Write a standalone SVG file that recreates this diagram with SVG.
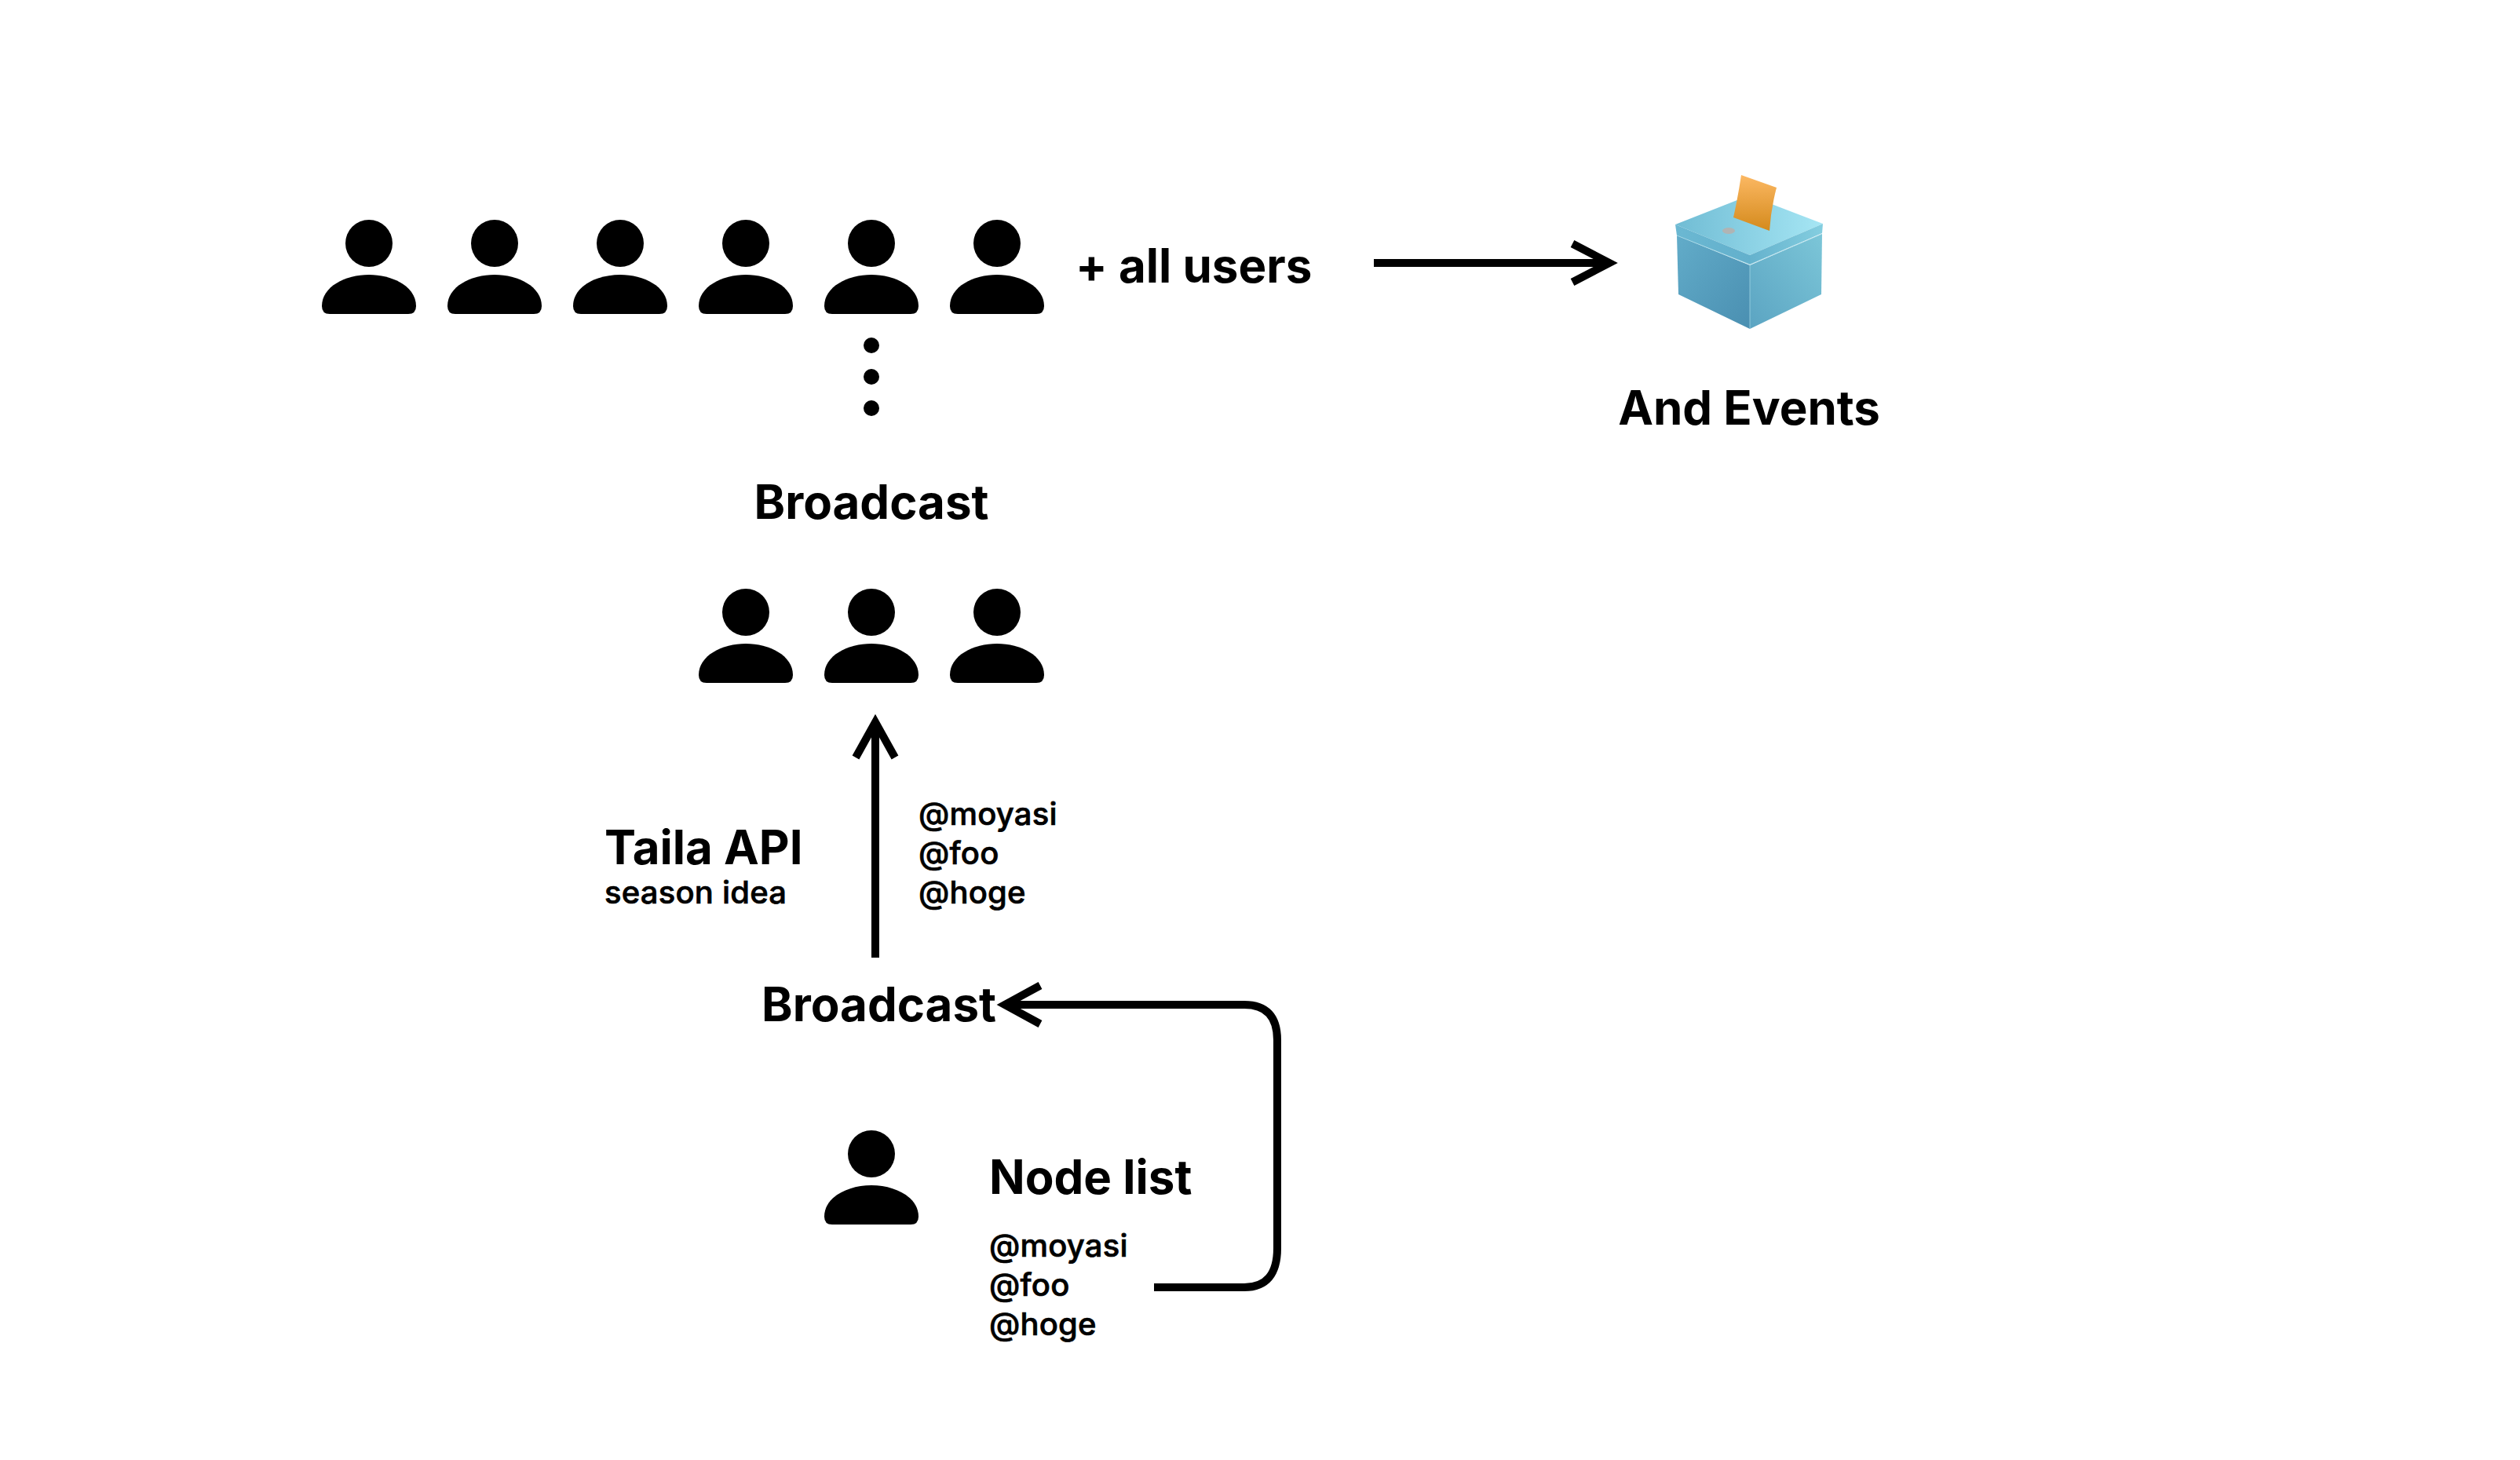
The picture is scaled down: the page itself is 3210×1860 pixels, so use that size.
<svg xmlns="http://www.w3.org/2000/svg" xmlns:xlink="http://www.w3.org/1999/xlink" width="3210" height="1860" viewBox="0 0 3210 1860">
<style>
text{font-family:Inter,"Liberation Sans",sans-serif;fill:#000}
.h{font-size:60px;font-weight:700}
.s{font-size:40px;font-weight:500;stroke:#000;stroke-width:.7px;letter-spacing:.2px}
.c{fill:none;stroke:#000;stroke-width:10}
</style>
<defs>
<g id="person"><circle cx="0" cy="-40" r="30"/><path d="M-60 40C-60 15-30 0 0 0S60 15 60 40Q60 50 50 50H-50Q-60 50-60 40Z"/></g>
<linearGradient id="bl" x1="0" y1="0" x2="1" y2="1"><stop offset="0" stop-color="#62acc9"/><stop offset="1" stop-color="#4a8fb1"/></linearGradient>
<linearGradient id="br" x1="0" y1="1" x2="1" y2="0"><stop offset="0" stop-color="#5ba4c2"/><stop offset="1" stop-color="#7cc6d8"/></linearGradient>
<linearGradient id="bt" x1="0" y1="0" x2="1" y2="0"><stop offset="0" stop-color="#70bcd4"/><stop offset="1" stop-color="#a6e6f4"/></linearGradient>
<linearGradient id="ll" x1="0" y1="0" x2="1" y2="0"><stop offset="0" stop-color="#6bb8d2"/><stop offset="1" stop-color="#63b0cc"/></linearGradient>
<linearGradient id="lr" x1="0" y1="0" x2="1" y2="0"><stop offset="0" stop-color="#65b2cd"/><stop offset="1" stop-color="#84cee0"/></linearGradient>
<linearGradient id="pp" x1="0" y1="0" x2="0" y2="1"><stop offset="0" stop-color="#fcb863"/><stop offset="1" stop-color="#d48a1c"/></linearGradient>
</defs>
<rect width="3210" height="1860" fill="#fff"/>
<g id="connectors">
<path class="c" d="M1750 335H2046"/>
<path class="c" d="M2003 310.500L2050 335L2003 359.500" stroke-miterlimit="10"/>
<path class="c" d="M1115 1220V924"/>
<path class="c" d="M1090 965L1115 920L1140 965" stroke-miterlimit="10"/>
<path class="c" d="M1470 1640H1585Q1627 1640 1627 1590V1325Q1627 1280 1585 1280H1284"/>
<path class="c" d="M1325 1255.500L1280 1280L1325 1304.500" stroke-miterlimit="10"/>
</g>
<g id="row-top">
<use xlink:href="#person" href="#person" x="470" y="350"/>
<use xlink:href="#person" href="#person" x="630" y="350"/>
<use xlink:href="#person" href="#person" x="790" y="350"/>
<use xlink:href="#person" href="#person" x="950" y="350"/>
<use xlink:href="#person" href="#person" x="1110" y="350"/>
<use xlink:href="#person" href="#person" x="1270" y="350"/>
</g>
<g id="all-users"><text class="h" x="1370" y="360">+ all users</text></g>
<g id="dots"><circle cx="1110" cy="440" r="10"/><circle cx="1110" cy="480" r="10"/><circle cx="1110" cy="520" r="10"/></g>
<g id="ballot-box">
<path d="M2228 249L2322 285L2229 325L2134 286Z" fill="url(#bt)"/>
<path d="M2136 300L2229 338V419L2138 375Z" fill="url(#bl)"/>
<path d="M2229 338L2321 298L2320 375L2229 419Z" fill="url(#br)"/>
<path d="M2134 286L2229 325V337L2136 300Z" fill="url(#ll)"/>
<path d="M2229 325L2322 285L2321 297L2229 337Z" fill="url(#lr)"/>
<path d="M2136 300L2229 337L2321 298M2229 337V419" fill="none" stroke="#a8dbe8" stroke-width="1" stroke-opacity=".7"/>
<path d="M2218 223L2263 239Q2256 265 2254 294L2208 277Q2214 250 2218 223Z" fill="url(#pp)"/>
<ellipse cx="2202" cy="294" rx="8" ry="4" fill="#b0b4b4"/>
</g>
<g id="and-events"><text class="h" x="2228" y="541" text-anchor="middle">And Events</text></g>
<g id="broadcast-top"><text class="h" x="1110" y="661" text-anchor="middle">Broadcast</text></g>
<g id="row-mid">
<use xlink:href="#person" href="#person" x="950" y="820"/>
<use xlink:href="#person" href="#person" x="1110" y="820"/>
<use xlink:href="#person" href="#person" x="1270" y="820"/>
</g>
<g id="taila"><text class="h" x="770" y="1101">Taila API</text><text class="s" x="770" y="1151">season idea</text></g>
<g id="list-a"><text class="s" x="1170" y="1051">@moyasi</text><text class="s" x="1170" y="1101">@foo</text><text class="s" x="1170" y="1151">@hoge</text></g>
<g id="broadcast-bottom"><text class="h" x="970" y="1301">Broadcast</text></g>
<g id="person-bottom"><use xlink:href="#person" href="#person" x="1110" y="1510"/></g>
<g id="node-list"><text class="h" x="1260" y="1521">Node list</text><text class="s" x="1260" y="1601">@moyasi</text><text class="s" x="1260" y="1651">@foo</text><text class="s" x="1260" y="1701">@hoge</text></g>
</svg>
